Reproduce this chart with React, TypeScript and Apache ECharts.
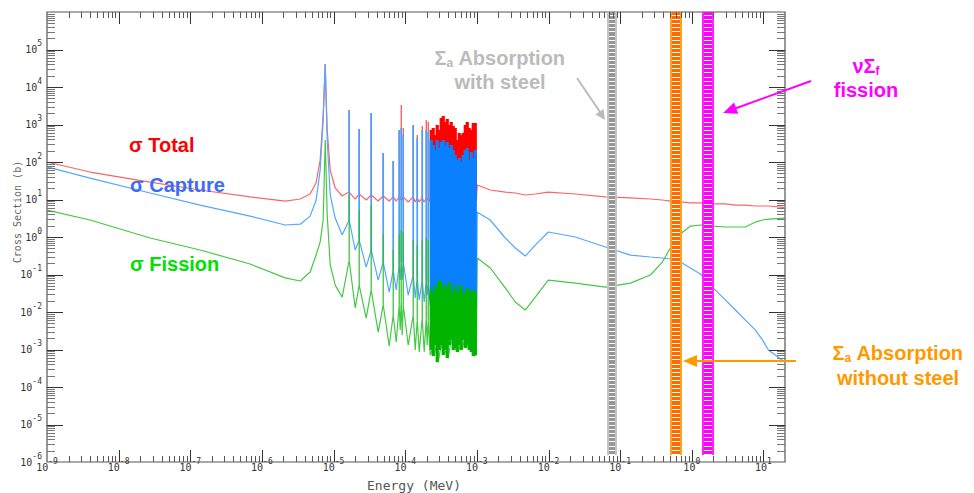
import React, { useEffect, useRef } from 'react';
import * as echarts from 'echarts';

const lg = Math.log10;

// ---------- Data (energy in MeV, cross sections in barns) ----------
// Smooth low-energy part (up to the first resonance)
const lowEnergy = [1.0e-9, 3.99e-9, 2.75e-8, 1.37e-7, 6.84e-7, 2.11e-6, 3.42e-6, 4.71e-6, 5.71e-6, 6.50e-6, 7.16e-6];
const totalLow = [100, 54, 29, 17.9, 11.7, 9.1, 10.3, 14.0, 28, 113, 1790];
const captureLow = [74, 37, 14.9, 7.1, 3.6, 2.09, 2.2, 3.6, 9.7, 61, 1320];
const fissionLow = [5.2, 2.84, 0.94, 0.45, 0.19, 0.081, 0.067, 0.117, 0.33, 0.74, 2.84];

// Resolved-resonance region: first big resonance, then valleys and resonance feet
const resonanceBaseEnergy = [7.64e-6, 8.15e-6, 8.98e-6, 1.053e-5, 1.318e-5, 1.651e-5, 2.003e-5, 2.278e-5, 2.852e-5, 3.350e-5, 4.196e-5, 4.928e-5, 5.977e-5, 6.797e-5, 7.484e-5, 8.243e-5, 8.513e-5, 8.791e-5, 9.080e-5, 9.378e-5, 1.101e-4, 1.293e-4, 1.379e-4, 1.471e-4, 1.569e-4, 1.728e-4, 1.842e-4, 1.965e-4, 2.029e-4, 2.095e-4, 2.234e-4];
const totalBase = [41000, 713, 61, 20.3, 12.4, 15.8, 10.3, 14.0, 9.7, 13.2, 9.1, 12.4, 9.1, 11.7, 9.1, 11.7, 9.7, 12.4, 9.7, 11.7, 8.6, 11.7, 8.6, 11.0, 8.6, 11.0, 8.6, 11.0, 9.7, 11.0, 8.6];
const captureBase = [41000, 386, 13.2, 3.2, 1.13, 2.84, 0.45, 0.83, 0.158, 0.45, 0.071, 0.215, 0.034, 0.13, 0.039, 0.18, 0.071, 0.215, 0.071, 0.215, 0.028, 0.097, 0.0236, 0.081, 0.021, 0.071, 0.0185, 0.071, 0.028, 0.063, 0.0154];
const fissionBase = [386, 3.9, 0.18, 0.052, 0.025, 0.24, 0.0128, 0.052, 0.0069, 0.039, 0.0029, 0.0154, 0.00124, 0.0083, 0.00158, 0.0154, 0.0033, 0.021, 0.0024, 0.0154, 0.0013, 0.0083, 0.00097, 0.0061, 0.00086, 0.0069, 0.00086, 0.0069, 0.0013, 0.0061, 0.00071];

// Narrow isolated resonances: energy, foot and peak values
const spikeEnergy = [1.651e-5, 2.278e-5, 3.350e-5, 4.928e-5, 6.797e-5, 8.243e-5, 8.791e-5, 9.378e-5, 1.293e-4, 1.471e-4, 1.728e-4, 1.965e-4, 2.095e-4];
const totalSpikeFoot = [15.8, 14.0, 13.2, 12.4, 11.7, 11.7, 12.4, 11.7, 11.7, 11.0, 11.0, 11.0, 11.0];
const totalSpikePeak = [2440, 759, 2030, 174, 106, 713, 3300, 807, 970, 525, 912, 1320, 1170];
const captureSpikeFoot = [2.84, 0.83, 0.45, 0.215, 0.13, 0.18, 0.215, 0.215, 0.097, 0.081, 0.071, 0.071, 0.063];
const captureSpikePeak = [2440, 759, 2030, 174, 106, 713, 807, 525, 970, 437, 713, 713, 631];
const fissionSpikeFoot = [0.24, 0.052, 0.039, 0.0154, 0.0083, 0.0154, 0.021, 0.0154, 0.0083, 0.0061, 0.0069, 0.0069, 0.0061];
const fissionSpikePeak = [13.2, 5.2, 7.1, 1.13, 0.45, 1.13, 1.54, 1.36, 0.83, 0.61, 0.83, 0.94, 0.83];

// Dense resonance region (peaks and valleys alternate)
const densePeakEnergy = [2.307e-4, 2.460e-4, 2.624e-4, 2.798e-4, 2.985e-4, 3.183e-4, 3.394e-4, 3.620e-4, 3.861e-4, 4.117e-4, 4.391e-4, 4.682e-4, 4.993e-4, 5.325e-4, 5.679e-4, 6.056e-4, 6.458e-4, 6.887e-4, 7.344e-4, 7.832e-4, 8.352e-4, 8.907e-4, 9.499e-4];
const denseValleyEnergy = [2.382e-4, 2.541e-4, 2.710e-4, 2.890e-4, 3.082e-4, 3.287e-4, 3.505e-4, 3.738e-4, 3.987e-4, 4.251e-4, 4.534e-4, 4.835e-4, 5.157e-4, 5.499e-4, 5.864e-4, 6.254e-4, 6.669e-4, 7.112e-4, 7.584e-4, 8.088e-4, 8.625e-4, 9.198e-4, 9.809e-4];
const totalDensePeak = [713, 807, 525, 970, 713, 1490, 1690, 1170, 1400, 970, 1170, 912, 807, 386, 593, 525, 593, 970, 1170, 807, 713, 1100, 1100];
const captureDensePeak = [386, 284, 209, 386, 236, 342, 386, 284, 342, 236, 284, 209, 154, 113, 128, 100, 154, 209, 236, 113, 185, 128, 209];
const fissionDensePeak = [0.039, 0.028, 0.052, 0.039, 0.071, 0.063, 0.044, 0.052, 0.039, 0.063, 0.039, 0.028, 0.052, 0.034, 0.039, 0.052, 0.028, 0.034, 0.044, 0.039, 0.028, 0.039, 0.034];
const totalDenseValley = [9.7, 8.6, 9.1, 8.1, 9.7, 8.6, 9.1, 8.6, 9.7, 8.1, 9.1, 8.6, 9.7, 8.6, 9.1, 8.1, 9.7, 8.6, 9.1, 8.6, 9.7, 8.1, 9.1];
const captureDenseValley = [0.021, 0.0154, 0.021, 0.0113, 0.0154, 0.021, 0.0128, 0.0174, 0.021, 0.0113, 0.0154, 0.021, 0.01, 0.0154, 0.021, 0.0113, 0.0128, 0.021, 0.01, 0.0154, 0.021, 0.0113, 0.0154];
const fissionDenseValley = [0.00097, 0.00067, 0.0013, 0.00046, 0.00097, 0.0013, 0.00071, 0.00097, 0.00059, 0.0013, 0.0018, 0.00097, 0.0011, 0.00086, 0.0013, 0.00097, 0.0018, 0.0011, 0.0013, 0.00097, 0.00086, 0.00067, 0.00071];

// Smooth high-energy part
const highEnergy = [1.013e-3, 1.539e-3, 2.492e-3, 3.438e-3, 4.742e-3, 6.539e-3, 9.935e-3, 2.367e-2, 6.214e-2, 0.1388, 0.2641, 0.3885, 0.5025, 0.6932, 0.9559, 1.319, 1.940, 2.946, 4.063, 5.606, 7.731, 9.683, 11.74, 20];
const totalHigh = [24.4, 17.9, 15.8, 14.9, 13.2, 14.0, 15.8, 14.0, 11.7, 11.0, 10.3, 9.7, 9.1, 8.6, 8.1, 8.1, 7.6, 7.6, 7.1, 7.1, 6.7, 6.7, 6.7, 6.1];
const captureHigh = [4.6, 2.84, 0.94, 0.51, 0.31, 0.61, 1.36, 1.0, 0.54, 0.33, 0.293, 0.275, 0.259, 0.215, 0.149, 0.103, 0.046, 0.021, 0.0113, 0.0061, 0.0033, 0.0018, 0.00097, 0.00046];
const fissionHigh = [0.275, 0.149, 0.044, 0.0185, 0.0113, 0.025, 0.071, 0.059, 0.046, 0.059, 0.097, 0.215, 0.51, 1.2, 1.96, 2.09, 1.96, 1.85, 1.85, 1.85, 2.5, 2.84, 3.0, 3.2];

// Absorption bands (energy ranges, MeV)
const bandLowEnergy = [0.0663, 0.5025, 1.406];
const bandHighEnergy = [0.0914, 0.739, 2.069];
const bandSigmaBottom = 1.54e-6;
const bandSigmaTop = 1e6;
const bandEdgeColors = ['#c4c4c4', '#ffa21c', '#ff22ff'];
const bandFillColors = ['#969696', '#ff6a00', '#ff00ff'];

// Axes
const energyMin = 1e-9;
const energyMax = 20;
const sigmaMin = 1e-6;
const sigmaMax = 1e6;
const energyDecades = [-9, -8, -7, -6, -5, -4, -3, -2, -1, 0, 1];
const sigmaDecades = [-6, -5, -4, -3, -2, -1, 0, 1, 2, 3, 4, 5];
const tickMultipliers = [1, 2, 3, 4, 5, 6, 7, 8, 9];

const lineColors = ['#ff6464', '#55a6ff', '#45c845'];
const spikeColors = ['#ff2020', '#4a9eff', '#2ebe2e'];
const spikeWidths = [1.0, 1.7, 1.2];
const denseColors = ['#ff0000', '#0a80ff', '#00b400'];

function buildBaseline(low: number[], base: number[], valley: number[], high: number[]) {
  const pts: number[][] = [];
  lowEnergy.forEach((e, i) => pts.push([lg(e), lg(low[i])]));
  resonanceBaseEnergy.forEach((e, i) => pts.push([lg(e), lg(base[i])]));
  denseValleyEnergy.forEach((e, i) => pts.push([lg(e), lg(valley[i])]));
  highEnergy.forEach((e, i) => pts.push([lg(e), lg(high[i])]));
  return pts;
}

const FONT = '"Liberation Sans", Arial, Helvetica, sans-serif';
const MONO = '"DejaVu Sans Mono", "Liberation Mono", monospace';

const isInt = (v: number) => Math.abs(v - Math.round(v)) < 1e-6;

const axisLabelRich = {
  b: { fontSize: 10, fontFamily: MONO, color: '#333' },
  s: { fontSize: 8, fontFamily: MONO, color: '#333', padding: [0, 0, 12, 0] },
};

function richText(parts: string, color: string, size = 20) {
  return {
    text: parts,
    fill: color,
    fontSize: size,
    fontWeight: 'bold',
    fontFamily: FONT,
    rich: {
      m: { fontSize: size, fontWeight: 'bold', fontFamily: FONT, fill: color, color },
      sub: { fontSize: 12, fontWeight: 'bold', fontFamily: FONT, fill: color, color, padding: [9, 0, 0, 0] },
    },
  };
}

export default function App() {
  const ref = useRef<HTMLDivElement>(null);

  useEffect(() => {
    if (!ref.current) return;
    const chart = echarts.init(ref.current, undefined, { renderer: 'svg' });

    const xTicks: number[][] = [];
    energyDecades.forEach((d) =>
      tickMultipliers.forEach((k) => {
        const v = d + lg(k);
        if (v > lg(energyMin) + 1e-6 && v < lg(energyMax) - 1e-3) xTicks.push([v, 0, k === 1 ? 1 : 0]);
      })
    );
    const yTicks: number[][] = [];
    sigmaDecades.forEach((d) =>
      tickMultipliers.forEach((k) => {
        const v = d + lg(k);
        if (v > lg(sigmaMin) + 1e-6 && v < lg(sigmaMax) - 1e-6) yTicks.push([0, v, k === 1 ? 1 : 0]);
      })
    );

    // vertical resonance marks: [logE, logLow, logHigh, seriesIdx, dense]
    const spikeSets = [
      [totalSpikeFoot, totalSpikePeak, totalDenseValley, totalDensePeak],
      [captureSpikeFoot, captureSpikePeak, captureDenseValley, captureDensePeak],
      [fissionSpikeFoot, fissionSpikePeak, fissionDenseValley, fissionDensePeak],
    ];
    const spikeData = (s: number) => {
      const [foot, peak, dv, dp] = spikeSets[s];
      const out: number[][] = [];
      spikeEnergy.forEach((e, i) => out.push([lg(e), lg(foot[i]), lg(peak[i]), s, 0]));
      densePeakEnergy.forEach((e, i) => out.push([lg(e), lg(dv[i]), lg(dp[i]), s, 1]));
      return out;
    };

    const bandData = bandLowEnergy.map((e, i) => [lg(e), lg(bandHighEnergy[i]), lg(bandSigmaBottom), lg(bandSigmaTop)]);

    const lineSeries = (name: string, idx: number, data: number[][]) => ({
      type: 'line',
      name,
      z: 2,
      showSymbol: false,
      symbol: 'none',
      silent: true,
      color: lineColors[idx],
      lineStyle: { width: 1.2, color: lineColors[idx] },
      data,
    });

    const spikeSeries = (s: number) => ({
      type: 'custom', name: 'resonances' + s, silent: true, z: 3 + s,
      encode: { x: 0, y: [1, 2] },
      data: spikeData(s),
      renderItem: (params: any, api: any) => {
        const dense = api.value(4) === 1;
        const lo = api.coord([api.value(0), api.value(1)]);
        const hi = api.coord([api.value(0), api.value(2)]);
        return {
          type: 'line',
          shape: { x1: lo[0], y1: lo[1], x2: hi[0], y2: hi[1] },
          style: { stroke: dense ? denseColors[s] : spikeColors[s], lineWidth: dense ? 3.2 : spikeWidths[s] },
        };
      },
    });

    const option: any = {
      animation: false,
      backgroundColor: '#ffffff',
      grid: {
        left: 47, right: 189, top: 12, bottom: 31,
        show: true, borderColor: '#555555', borderWidth: 1.2, backgroundColor: 'transparent',
        outerBoundsMode: 'none',
      },
      xAxis: {
        type: 'value', min: lg(energyMin), max: lg(energyMax), interval: 1,
        axisLine: { show: false }, axisTick: { show: false }, splitLine: { show: false },
        axisLabel: {
          margin: -5,
          formatter: (v: number) => (isInt(v) ? `{b|10}{s|${Math.round(v)}}` : ''),
          rich: axisLabelRich,
        },
      },
      yAxis: {
        type: 'value', min: lg(sigmaMin), max: lg(sigmaMax), interval: 1,
        axisLine: { show: false }, axisTick: { show: false }, splitLine: { show: false },
        axisLabel: {
          margin: 5,
          formatter: (v: number) => (isInt(v) && Math.round(v) < 6 ? `{b|10}{s|${Math.round(v)}}` : ''),
          rich: axisLabelRich,
        },
      },
      series: [
        lineSeries('σ Total', 0, buildBaseline(totalLow, totalBase, totalDenseValley, totalHigh)),
        lineSeries('σ Capture', 1, buildBaseline(captureLow, captureBase, captureDenseValley, captureHigh)),
        lineSeries('σ Fission', 2, buildBaseline(fissionLow, fissionBase, fissionDenseValley, fissionHigh)),
        spikeSeries(0),
        spikeSeries(1),
        spikeSeries(2),
        {
          type: 'custom', name: 'bands', silent: true, z: 8,
          encode: { x: [0, 1], y: [2, 3] },
          data: bandData,
          renderItem: (params: any, api: any) => {
            const i = params.dataIndex;
            const p0 = api.coord([api.value(0), api.value(3)]);
            const p1 = api.coord([api.value(1), api.value(2)]);
            const x0 = Math.round(p0[0]);
            const x1 = Math.round(p1[0]);
            const y0 = p0[1];
            const y1 = p1[1];
            const children: any[] = [
              { type: 'rect', shape: { x: x0, y: y0, width: x1 - x0, height: y1 - y0 }, style: { fill: bandEdgeColors[i] } },
              { type: 'rect', shape: { x: x0 + 2, y: y0, width: x1 - x0 - 4, height: y1 - y0 }, style: { fill: bandFillColors[i] } },
            ];
            for (let y = y0 + 3; y < y1 - 1; y += 4.1) {
              const yy = Math.round(y) + 0.5;
              children.push({ type: 'line', shape: { x1: x0 + 2, y1: yy, x2: x1 - 2, y2: yy }, style: { stroke: '#ffffff', lineWidth: 1 } });
            }
            return { type: 'group', children };
          },
        },
        {
          type: 'custom', name: 'xTicks', silent: true, z: 9,
          data: xTicks,
          renderItem: (params: any, api: any) => {
            const cs = params.coordSys;
            const px = Math.round(api.coord([api.value(0), 0])[0]) + 0.5;
            const major = api.value(2) === 1;
            const len = major ? 12 : 6;
            const bottom = cs.y + cs.height;
            const top = cs.y;
            const stroke = major ? '#333333' : '#555555';
            return {
              type: 'group',
              children: [
                { type: 'line', shape: { x1: px, y1: bottom, x2: px, y2: bottom - len }, style: { stroke, lineWidth: 1 } },
                { type: 'line', shape: { x1: px, y1: top, x2: px, y2: top + len }, style: { stroke, lineWidth: 1 } },
              ],
            };
          },
        },
        {
          type: 'custom', name: 'yTicks', silent: true, z: 9,
          data: yTicks,
          renderItem: (params: any, api: any) => {
            const cs = params.coordSys;
            const py = Math.round(api.coord([0, api.value(1)])[1]) + 0.5;
            const major = api.value(2) === 1;
            const len = major ? 16 : 8;
            const left = cs.x;
            const right = cs.x + cs.width;
            const stroke = major ? '#333333' : '#777777';
            return {
              type: 'group',
              children: [
                { type: 'line', shape: { x1: left, y1: py, x2: left + len, y2: py }, style: { stroke, lineWidth: 1 } },
                { type: 'line', shape: { x1: right, y1: py, x2: right - len, y2: py }, style: { stroke, lineWidth: 1 } },
              ],
            };
          },
        },
      ],
      graphic: [
        // curve labels
        { type: 'text', z: 100, x: 129, y: 145, style: { ...richText('σ Total', '#ff0000'), textVerticalAlign: 'middle' } },
        { type: 'text', z: 100, x: 130, y: 185, style: { ...richText('σ Capture', '#3d6cf5'), textVerticalAlign: 'middle' } },
        { type: 'text', z: 100, x: 130, y: 264, style: { ...richText('σ Fission', '#00e000'), textVerticalAlign: 'middle' } },
        // absorption with steel
        { type: 'text', z: 100, x: 500, y: 58, style: { ...richText('{m|Σ}{sub|a}{m| Absorption}', '#bbbbbb'), textAlign: 'center', textVerticalAlign: 'middle' } },
        { type: 'text', z: 100, x: 500, y: 82, style: { ...richText('with steel', '#bbbbbb'), textAlign: 'center', textVerticalAlign: 'middle' } },
        { type: 'line', z: 100, shape: { x1: 577, y1: 78, x2: 600, y2: 112 }, style: { stroke: '#bbbbbb', lineWidth: 2 } },
        { type: 'polygon', z: 100, shape: { points: [[605, 120], [595.3, 114.5], [603.6, 108.9]] }, style: { fill: '#bbbbbb' } },
        // nu Sigma f fission
        { type: 'text', z: 100, x: 866, y: 66, style: { ...richText('{m|νΣ}{sub|f}', '#ff00ff'), textAlign: 'center', textVerticalAlign: 'middle' } },
        { type: 'text', z: 100, x: 866, y: 90, style: { ...richText('fission', '#ff00ff'), textAlign: 'center', textVerticalAlign: 'middle' } },
        { type: 'line', z: 100, shape: { x1: 811, y1: 81, x2: 736, y2: 108.2 }, style: { stroke: '#ff00ff', lineWidth: 2 } },
        { type: 'polygon', z: 100, shape: { points: [[723, 113], [734.1, 102.6], [738.2, 113.8]] }, style: { fill: '#ff00ff' } },
        // absorption without steel
        { type: 'text', z: 100, x: 898, y: 353, style: { ...richText('{m|Σ}{sub|a}{m| Absorption}', '#ff9900'), textAlign: 'center', textVerticalAlign: 'middle' } },
        { type: 'text', z: 100, x: 898, y: 378, style: { ...richText('without steel', '#ff9900'), textAlign: 'center', textVerticalAlign: 'middle' } },
        { type: 'line', z: 100, shape: { x1: 796, y1: 361, x2: 695, y2: 361 }, style: { stroke: '#ff9900', lineWidth: 2 } },
        { type: 'polygon', z: 100, shape: { points: [[683, 361], [697, 355], [697, 367]] }, style: { fill: '#ff9900' } },
        // axis titles
        { type: 'text', z: 100, x: 17, y: 212, rotation: Math.PI / 2,
          style: { text: 'Cross Section (b)', fill: '#666666', fontSize: 10, fontFamily: MONO, textAlign: 'center', textVerticalAlign: 'middle' } },
        { type: 'text', z: 100, x: 414, y: 485,
          style: { text: 'Energy (MeV)', fill: '#555555', fontSize: 13, fontFamily: MONO, textAlign: 'center', textVerticalAlign: 'middle' } },
      ],
    };

    chart.setOption(option);
    return () => chart.dispose();
  }, []);

  return <div ref={ref} style={{ position: 'absolute', left: 0, top: 0, width: 974, height: 493 }} />;
}
